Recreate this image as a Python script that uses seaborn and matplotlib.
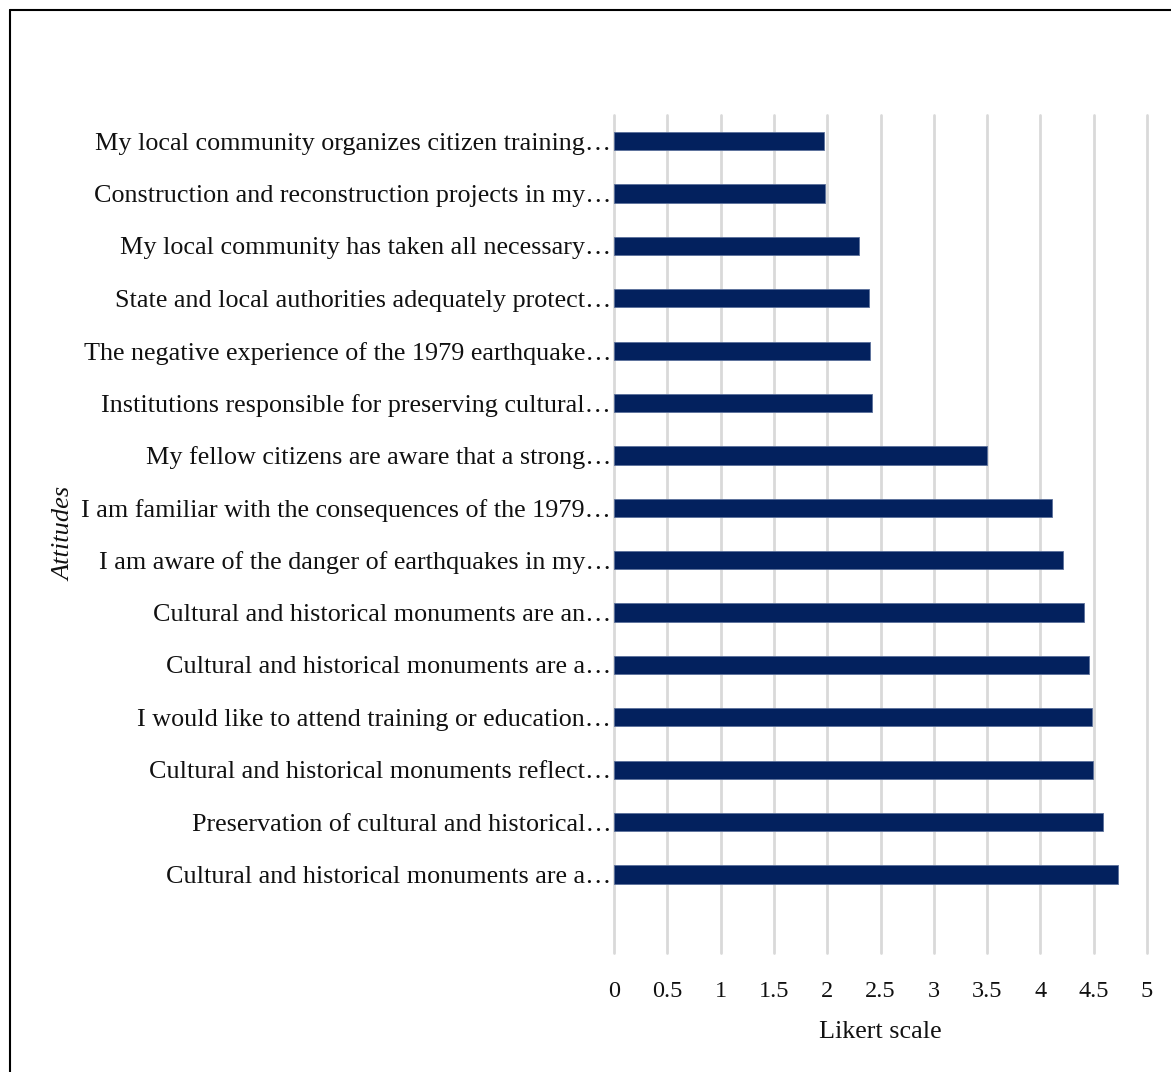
import matplotlib
matplotlib.use("Agg")
import matplotlib.pyplot as plt
import seaborn as sns
import pandas as pd
from matplotlib.lines import Line2D

attitudes = [
    "My local community organizes citizen training…",
    "Construction and reconstruction projects in my…",
    "My local community has taken all necessary…",
    "State and local authorities adequately protect…",
    "The negative experience of the 1979 earthquake…",
    "Institutions responsible for preserving cultural…",
    "My fellow citizens are aware that a strong…",
    "I am familiar with the consequences of the 1979…",
    "I am aware of the danger of earthquakes in my…",
    "Cultural and historical monuments are an…",
    "Cultural and historical monuments are a…",
    "I would like to attend training or education…",
    "Cultural and historical monuments reflect…",
    "Preservation of cultural and historical…",
    "Cultural and historical monuments are a…",
]
scores = [1.97, 1.98, 2.30, 2.39, 2.40, 2.42, 3.50, 4.11, 4.21, 4.41, 4.46, 4.48, 4.49, 4.59, 4.73]
x_ticks = [0, 0.5, 1, 1.5, 2, 2.5, 3, 3.5, 4, 4.5, 5]
x_tick_labels = ["0", "0.5", "1", "1.5", "2", "2.5", "3", "3.5", "4", "4.5", "5"]

item_ids = [f"item{i}" for i in range(len(attitudes))]
df = pd.DataFrame({"Item": item_ids, "Score": scores})

sns.set_theme(style="white")
plt.rcParams["font.family"] = ["Liberation Serif", "DejaVu Serif"]

W, H = 1171, 1072
fig = plt.figure(figsize=(W / 100, H / 100), dpi=100)
ax = fig.add_axes([614 / W, 1 - 953 / H, (1147 - 614) / W, (953 - 115) / H])

sns.barplot(data=df, x="Score", y="Item", order=item_ids, orient="h", color="#03215e",
            saturation=1, width=0.35, edgecolor="#5a6f9a", linewidth=0.6, ax=ax, zorder=3)

ax.set_xlim(0, 5)
ax.set_ylim(15.5, -0.5)
ax.set_xticks(x_ticks)
ax.set_xticklabels(x_tick_labels)
ax.set_yticks(range(len(attitudes)))
ax.set_yticklabels(attitudes)
ax.grid(axis="x", color="#d9d9d9", linewidth=2, zorder=0)
ax.grid(axis="y", visible=False)
for gl in ax.get_xgridlines():
    gl.set_clip_on(False)
for s in ax.spines.values():
    s.set_visible(False)
ax.tick_params(axis="both", length=0, colors="#111111")
ax.tick_params(axis="x", pad=20, labelsize=17.5)
ax.tick_params(axis="y", pad=2, labelsize=18.8)
ax.set_ylabel("")
ax.set_xlabel("Likert scale", fontsize=18.8, labelpad=14, color="#111111")

fig.text(64 / W, 1 - 534 / H, "Attitudes", rotation=90, ha="center", va="center",
         fontsize=19, style="italic", color="#111111")

# outer frame
fig.add_artist(Line2D([10 / W, 1.0], [1 - 10 / H, 1 - 10 / H], transform=fig.transFigure,
                      color="black", linewidth=1.5))
fig.add_artist(Line2D([10 / W, 10 / W], [1 - 10 / H, 0.0], transform=fig.transFigure,
                      color="black", linewidth=1.5))

fig.savefig("out.png", dpi=100)
